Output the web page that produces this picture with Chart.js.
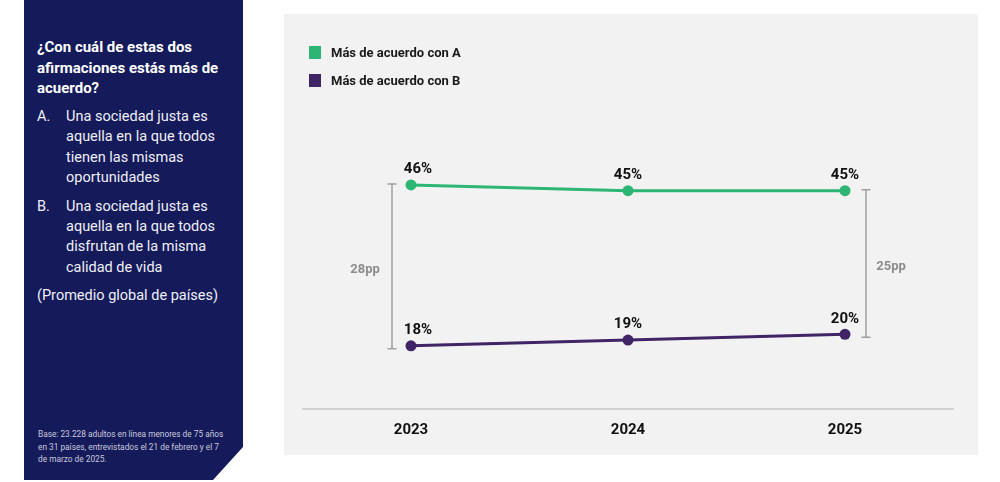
<!DOCTYPE html>
<html>
<head>
<meta charset="utf-8">
<script src="https://cdn.jsdelivr.net/npm/chart.js@4.4.1/dist/chart.umd.min.js"></script>
<style>
  html, body { margin: 0; padding: 0; width: 1000px; height: 482px; background: #fff; overflow: hidden; font-family: Roboto, "Noto Sans", sans-serif; }
  #side { position: absolute; left: 24px; top: 0; width: 219px; height: 480px; background: #141a5a; color: #fff;
          clip-path: polygon(0 0, 219px 0, 219px 447px, 189px 480px, 0 480px); }
  #side .title { position: absolute; left: 13px; top: 37px; font-weight: 700; font-size: 15px; line-height: 20.5px; white-space: nowrap; }
  #side .list { position: absolute; left: 13px; top: 107px; font-size: 14.5px; line-height: 20.3px; white-space: nowrap; color: #f0f0f6; }
  #side .item { display: flex; margin-bottom: 8.5px; }
  #side .item span:first-child { width: 29px; }
  #side .note { position: absolute; left: 14px; top: 428px; font-size: 8.3px; line-height: 12.5px; color: #c9cbdd; white-space: nowrap; }
  #panel { position: absolute; left: 284px; top: 14px; width: 694px; height: 441px; background: #f2f2f2; }
  #legend { position: absolute; left: 25px; top: 32px; }
  #legend .row { display: flex; align-items: center; height: 13px; margin-bottom: 15px; font-weight: 700; font-size: 13px; color: #1a1a1a; }
  #legend .sw { width: 12px; height: 13px; margin-right: 10px; }
  #chartBox { position: absolute; left: 0; top: 0; width: 694px; height: 441px; }
</style>
</head>
<body>
<div id="side">
  <div class="title">¿Con cuál de estas dos<br>afirmaciones estás más de<br>acuerdo?</div>
  <div class="list">
    <div class="item"><span>A.</span><span>Una sociedad justa es<br>aquella en la que todos<br>tienen las mismas<br>oportunidades</span></div>
    <div class="item"><span>B.</span><span>Una sociedad justa es<br>aquella en la que todos<br>disfrutan de la misma<br>calidad de vida</span></div>
    <div>(Promedio global de países)</div>
  </div>
  <div class="note">Base: 23.228 adultos en línea menores de 75 años<br>en 31 países, entrevistados el 21 de febrero y el 7<br>de marzo de 2025.</div>
</div>
<div id="panel">
  <div id="chartBox"><canvas id="chart"></canvas></div>
  <div id="legend"></div>
</div>
<script>
const years = ['2023', '2024', '2025'];
const seriesNames = ['Más de acuerdo con A', 'Más de acuerdo con B'];
const agreeA = [46, 45, 45];
const agreeB = [18, 19, 20];
const colors = ['#2db673', '#3f2466'];

// legend in html, from the series names
const legend = document.getElementById('legend');
seriesNames.forEach((name, i) => {
  const row = document.createElement('div');
  row.className = 'row';
  row.innerHTML = '<div class="sw" style="background:' + colors[i] + '"></div>' + name;
  legend.appendChild(row);
});

// value labels and the gap brackets at both ends
const annotate = {
  id: 'annotate',
  afterDatasetsDraw(chart) {
    const ctx = chart.ctx;
    ctx.save();
    ctx.font = 'bold 15px Roboto';
    ctx.fillStyle = '#111';
    ctx.textAlign = 'center';
    ctx.textBaseline = 'middle';
    chart.data.datasets.forEach((ds, di) => {
      chart.getDatasetMeta(di).data.forEach((pt, i) => {
        ctx.fillText(ds.data[i] + '%', pt.x + (i === 0 ? 7 : 0), pt.y - 15.5);
      });
    });

    const ptsA = chart.getDatasetMeta(0).data;
    const ptsB = chart.getDatasetMeta(1).data;
    const last = years.length - 1;
    [[0, -19, -27], [last, 21, 25]].forEach(([i, dx, lx]) => {
      const bx = ptsA[i].x + dx;
      const top = ptsA[i].y - 1;
      const bottom = ptsB[i].y + 3;
      ctx.strokeStyle = '#a0a0a0';
      ctx.lineWidth = 1.5;
      ctx.beginPath();
      ctx.moveTo(bx, top); ctx.lineTo(bx, bottom);
      ctx.moveTo(bx - 4.5, top); ctx.lineTo(bx + 4.5, top);
      ctx.moveTo(bx - 4.5, bottom); ctx.lineTo(bx + 4.5, bottom);
      ctx.stroke();
      ctx.font = 'bold 13px Roboto';
      ctx.fillStyle = '#8c8c8c';
      ctx.fillText((agreeA[i] - agreeB[i]) + 'pp', bx + lx, (top + bottom) / 2 + 3);
    });
    ctx.restore();
  }
};

new Chart(document.getElementById('chart'), {
  type: 'line',
  data: {
    labels: years,
    datasets: [
      { label: seriesNames[0], data: agreeA, borderColor: colors[0], backgroundColor: colors[0],
        borderWidth: 3, pointRadius: 5.5, pointBackgroundColor: colors[0], pointBorderWidth: 0 },
      { label: seriesNames[1], data: agreeB, borderColor: colors[1], backgroundColor: colors[1],
        borderWidth: 3, pointRadius: 5.5, pointBackgroundColor: colors[1], pointBorderWidth: 0 }
    ]
  },
  options: {
    responsive: true,
    maintainAspectRatio: false,
    animation: false,
    layout: { padding: { top: 90.5, left: 18.5, right: 24.5, bottom: 4 } },
    plugins: { legend: { display: false }, tooltip: { enabled: false } },
    scales: {
      x: {
        offset: true,
        grid: { display: false, drawTicks: false },
        border: { display: true, color: '#d2d2d2', width: 2 },
        ticks: { padding: 12, color: '#111', font: { family: 'Roboto', size: 15, weight: 'bold' } }
      },
      y: { display: false, min: 7, max: 60 }
    }
  },
  plugins: [annotate]
});
</script>
</body>
</html>
